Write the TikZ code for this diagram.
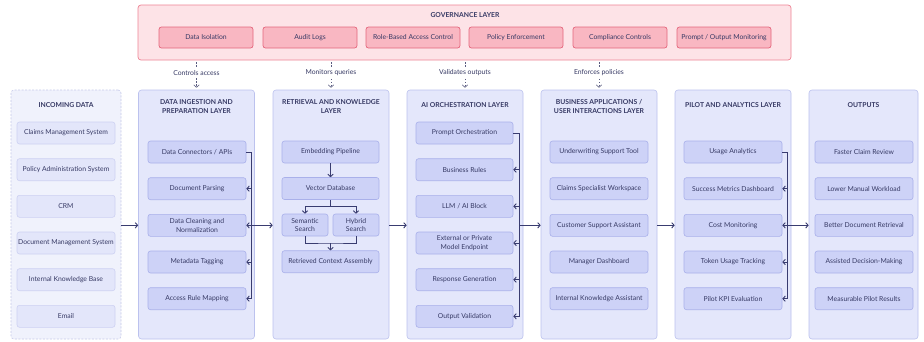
\documentclass[tikz,border=0pt]{standalone}
\usepackage{fontspec}
\setmainfont{Lato}
\usetikzlibrary{arrows.meta}
\definecolor{txt}{HTML}{363964}
\definecolor{govfill}{HTML}{FDE3E7}
\definecolor{govborder}{HTML}{EE8495}
\definecolor{govitemfill}{HTML}{F9B7C2}
\definecolor{govitemborder}{HTML}{E5677D}
\definecolor{colfill}{HTML}{E4E7FB}
\definecolor{colborder}{HTML}{BCC2EE}
\definecolor{itemfill}{HTML}{CDD2F7}
\definecolor{itemborder}{HTML}{A9B0EA}
\definecolor{incfill}{HTML}{F0F2FC}
\definecolor{incborder}{HTML}{C6CAEA}
\definecolor{incitemfill}{HTML}{E3E6FA}
\definecolor{incitemborder}{HTML}{CDD1F2}
\definecolor{arrowc}{HTML}{393C70}
\definecolor{govline}{HTML}{5A5C80}
\begin{document}
\begin{tikzpicture}[x=1pt,y=-1pt,
  font=\fontsize{6.8}{8.5}\selectfont,
  govbox/.style={draw=govborder, fill=govfill, rounded corners=3pt, line width=0.7pt, minimum width=653pt, minimum height=55pt, inner sep=0pt},
  govitem/.style={draw=govitemborder, fill=govitemfill, rounded corners=2.5pt, line width=0.7pt, minimum width=94pt, minimum height=21pt, inner sep=1pt, text=txt},
  colbox/.style={draw=colborder, fill=colfill, rounded corners=3pt, line width=0.6pt, minimum width=116pt, minimum height=249pt, inner sep=0pt},
  incbox/.style={draw=incborder, fill=incfill, dashed, dash pattern=on 2pt off 1.5pt, rounded corners=3pt, line width=0.6pt, minimum width=110pt, minimum height=249pt, inner sep=0pt},
  item/.style={draw=itemborder, fill=itemfill, rounded corners=2.5pt, line width=0.6pt, minimum width=98pt, minimum height=22pt, inner sep=1pt, align=center, text=txt},
  incitem/.style={item, draw=incitemborder, fill=incitemfill},
  smallitem/.style={item, minimum width=46pt},
  coltitle/.style={font=\fontsize{6.8}{9}\selectfont\bfseries, text=txt, align=center, inner sep=0pt},
  govlabel/.style={text=txt, inner sep=1.5pt},
  conn/.style={draw=arrowc, line width=0.9pt},
  tip/.style={-{Straight Barb[length=2.4pt,width=5.4pt]}},
  govarrow/.style={draw=govline, line width=0.6pt, dash pattern=on 1.6pt off 1.4pt}
]
\useasboundingbox (0,0) rectangle (924,341);
\fill[white] (0,0) rectangle (924,341);

% Governance layer
\node[govbox] (gov) at (464.5,32.5) {};
\node[coltitle] (govt) at (465,15) {GOVERNANCE LAYER};
\node[govitem] (g1) at (206,37.5) {Data Isolation};
\node[govitem] (g2) at (310,37.5) {Audit Logs};
\node[govitem] (g3) at (413,37.5) {Role-Based Access Control};
\node[govitem] (g4) at (516,37.5) {Policy Enforcement};
\node[govitem] (g5) at (620,37.5) {Compliance Controls};
\node[govitem] (g6) at (724,37.5) {Prompt / Output Monitoring};

% Columns
\node[incbox] (inc) at (66,214.5) {};
\node[colbox] (ing) at (196.5,214.5) {};
\node[colbox] (ret) at (331,214.5) {};
\node[colbox] (ai) at (465,214.5) {};
\node[colbox] (bus) at (599,214.5) {};
\node[colbox] (pil) at (733,214.5) {};
\node[colbox, minimum width=109pt] (out) at (863.5,214.5) {};

% Titles
\node[coltitle] (tinc) at (66,105) {INCOMING DATA};
\node[coltitle] (ting) at (196.5,106.3) {DATA INGESTION AND\\PREPARATION LAYER};
\node[coltitle] (tret) at (331,106.3) {RETRIEVAL AND KNOWLEDGE\\LAYER};
\node[coltitle] (tai) at (465,105) {AI ORCHESTRATION LAYER};
\node[coltitle] (tbus) at (599,106.3) {BUSINESS APPLICATIONS /\\USER INTERACTIONS LAYER};
\node[coltitle] (tpil) at (733,105) {PILOT AND ANALYTICS LAYER};
\node[coltitle] (tout) at (863.5,105) {OUTPUTS};

% Incoming items
\node[incitem] (c1) at (66,133) {Claims Management System};
\node[incitem] (c2) at (66,169.7) {Policy Administration System};
\node[incitem] (c3) at (66,206.3) {CRM};
\node[incitem] (c4) at (66,243) {Document Management System};
\node[incitem] (c5) at (66,279.7) {Internal Knowledge Base};
\node[incitem] (c6) at (66,316.3) {Email};

% Ingestion items
\node[item] (i1) at (197,152) {Data Connectors / APIs};
\node[item] (i2) at (197,188.7) {Document Parsing};
\node[item] (i3) at (197,225.3) {Data Cleaning and\\Normalization};
\node[item] (i4) at (197,262) {Metadata Tagging};
\node[item] (i5) at (197,298.7) {Access Rule Mapping};

% Retrieval items
\node[item, minimum width=97pt] (r1) at (330.5,152) {Embedding Pipeline};
\node[item, minimum width=97pt] (r2) at (330.5,188.5) {Vector Database};
\node[smallitem] (r3) at (305,225) {Semantic\\Search};
\node[smallitem] (r4) at (356,225) {Hybrid\\Search};
\node[item, minimum width=97pt] (r5) at (330.5,261.7) {Retrieved Context Assembly};

% AI items
\node[item, minimum width=97pt] (a1) at (464.5,133) {Prompt Orchestration};
\node[item, minimum width=97pt] (a2) at (464.5,169.7) {Business Rules};
\node[item, minimum width=97pt] (a3) at (464.5,206.3) {LLM / AI Block};
\node[item, minimum width=97pt] (a4) at (464.5,243) {External or Private\\Model Endpoint};
\node[item, minimum width=97pt] (a5) at (464.5,279.7) {Response Generation};
\node[item, minimum width=97pt] (a6) at (464.5,316.3) {Output Validation};

% Business items
\node[item] (b1) at (599,152) {Underwriting Support Tool};
\node[item] (b2) at (599,188.7) {Claims Specialist Workspace};
\node[item] (b3) at (599,225.3) {Customer Support Assistant};
\node[item] (b4) at (599,262) {Manager Dashboard};
\node[item] (b5) at (599,298.7) {Internal Knowledge Assistant};

% Pilot items
\node[item] (p1) at (733,152) {Usage Analytics};
\node[item] (p2) at (733,188.7) {Success Metrics Dashboard};
\node[item] (p3) at (733,225.3) {Cost Monitoring};
\node[item] (p4) at (733,262) {Token Usage Tracking};
\node[item] (p5) at (733,298.7) {Pilot KPI Evaluation};

% Output items
\node[item] (o1) at (864,152) {Faster Claim Review};
\node[item] (o2) at (864,188.7) {Lower Manual Workload};
\node[item] (o3) at (864,225.3) {Better Document Retrieval};
\node[item] (o4) at (864,262) {Assisted Decision-Making};
\node[item] (o5) at (864,298.7) {Measurable Pilot Results};

% Governance annotations
\node[govlabel] (l1) at (196.5,73) {Controls access};
\node[govlabel] (l2) at (331,73) {Monitors queries};
\node[govlabel] (l3) at (465,73) {Validates outputs};
\node[govlabel] (l4) at (599,73) {Enforces policies};
\foreach \l/\c in {l1/ing,l2/ret,l3/ai,l4/bus}{
  \draw[govarrow, shorten <=2pt, shorten >=1pt] (gov.south -| \l) -- (\l.north);
  \draw[govarrow, shorten <=1pt, shorten >=2pt, -{Straight Barb[length=2.4pt,width=5.4pt]}] (\l.south) -- (\c.north -| \l);
}

% Bracket x positions and main arrow row
\coordinate (bx1) at (251,0);
\coordinate (bx2) at (519,0);
\coordinate (bx3) at (787,0);
\coordinate (row) at (0,225.3);

% Ingestion bracket
\draw[conn, tip] (i1.east) -| (bx1 |- i5.east) -- (i5.east);
\foreach \n in {i2,i3,i4}{\draw[conn, tip] (bx1 |- \n.east) -- (\n.east);}
% AI bracket
\draw[conn, tip] (a1.east) -| (bx2 |- a6.east) -- (a6.east);
\foreach \n in {a2,a3,a4,a5}{\draw[conn, tip] (bx2 |- \n.east) -- (\n.east);}
% Pilot bracket
\draw[conn, tip] (p1.east) -| (bx3 |- p5.east) -- (p5.east);
\foreach \n in {p2,p3,p4}{\draw[conn, tip] (bx3 |- \n.east) -- (\n.east);}

% Retrieval flow
\coordinate (split) at (330.5,206.5);
\coordinate (join) at (330.5,243);
\draw[conn, tip] (r1.south) -- (r2.north);
\draw[conn] (r2.south) -- (split);
\draw[conn, tip] (split) -| (r3.north);
\draw[conn, tip] (split) -| (r4.north);
\draw[conn] (r3.south) |- (join) -| (r4.south);
\draw[conn, tip] (join) -- (r5.north);

% Column to column arrows
\draw[conn, tip] (inc.east |- row) -- (ing.west |- row);
\draw[conn, tip] (bx1 |- row) -- (ret.west |- row);
\draw[conn, tip] (ret.east |- row) -- (ai.west |- row);
\draw[conn, tip] (bx2 |- row) -- (bus.west |- row);
\draw[conn, tip] (bus.east |- row) -- (pil.west |- row);
\draw[conn, tip] (bx3 |- row) -- (out.west |- row);
\end{tikzpicture}
\end{document}
